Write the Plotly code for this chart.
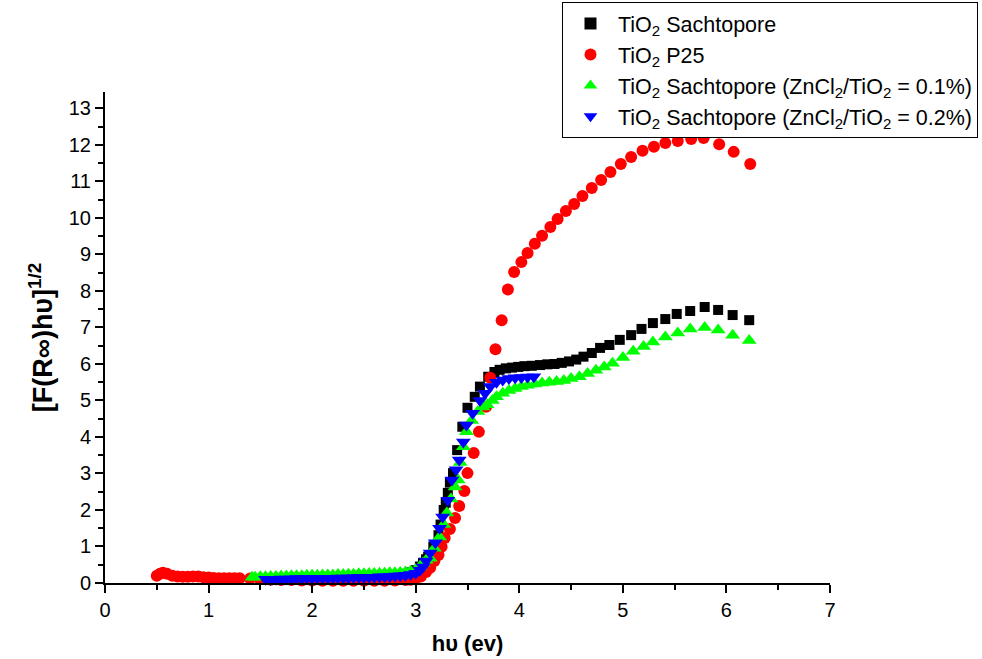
import plotly.graph_objects as go

# ---- data ----
black_x = [1.50, 1.60, 1.70, 1.80, 1.90, 2.00, 2.10, 2.20, 2.30, 2.40, 2.50, 2.60, 2.70, 2.80, 2.90, 2.95,
           3.00, 3.04, 3.07, 3.10, 3.12, 3.17, 3.22, 3.24, 3.27, 3.29, 3.31, 3.33, 3.36, 3.40, 3.45, 3.50,
           3.57, 3.62, 3.70, 3.76, 3.81, 3.87, 3.93, 3.99, 4.05, 4.12, 4.20, 4.27, 4.34, 4.41, 4.48, 4.55,
           4.62, 4.70, 4.78, 4.87, 4.97, 5.08, 5.18, 5.29, 5.41, 5.52, 5.65, 5.79, 5.92, 6.06, 6.22]
black_y = [0.10, 0.11, 0.12, 0.13, 0.14, 0.14, 0.15, 0.16, 0.17, 0.18, 0.19, 0.20, 0.21, 0.22, 0.25, 0.29,
           0.35, 0.45, 0.55, 0.65, 0.72, 1.00, 1.31, 1.60, 2.00, 2.20, 2.47, 2.75, 3.01, 3.64, 4.28, 4.80,
           5.10, 5.38, 5.65, 5.78, 5.84, 5.88, 5.90, 5.92, 5.94, 5.95, 5.97, 5.99, 6.00, 6.03, 6.07, 6.12,
           6.20, 6.30, 6.44, 6.52, 6.66, 6.79, 6.96, 7.12, 7.23, 7.37, 7.45, 7.56, 7.48, 7.34, 7.20]

red_x = [0.50, 0.53, 0.56, 0.60, 0.65, 0.70, 0.75, 0.80, 0.85, 0.90, 0.95, 1.00, 1.05, 1.10, 1.15, 1.20,
         1.25, 1.30, 1.40, 1.50, 1.60, 1.70, 1.80, 1.90, 2.00, 2.10, 2.20, 2.30, 2.40, 2.50, 2.60, 2.70,
         2.80, 2.90, 2.95, 3.00, 3.05, 3.10, 3.14, 3.18, 3.22, 3.25, 3.28, 3.33, 3.38, 3.42, 3.47, 3.50,
         3.56, 3.61, 3.68, 3.72, 3.77, 3.83, 3.89, 3.95, 4.02, 4.08, 4.15, 4.22, 4.30, 4.37, 4.45, 4.53,
         4.61, 4.70, 4.79, 4.88, 4.98, 5.08, 5.19, 5.30, 5.41, 5.53, 5.66, 5.78, 5.93, 6.07, 6.23]
red_y = [0.20, 0.25, 0.28, 0.25, 0.20, 0.18, 0.17, 0.17, 0.18, 0.18, 0.16, 0.15, 0.14, 0.13, 0.13, 0.13,
         0.13, 0.13, 0.12, 0.10, 0.09, 0.08, 0.08, 0.07, 0.07, 0.06, 0.06, 0.06, 0.06, 0.06, 0.06, 0.06,
         0.07, 0.08, 0.09, 0.12, 0.18, 0.30, 0.42, 0.60, 0.77, 0.99, 1.23, 1.48, 1.78, 2.11, 2.52, 3.01,
         3.56, 4.14, 4.83, 5.62, 6.40, 7.20, 8.04, 8.52, 8.79, 9.04, 9.29, 9.51, 9.75, 9.97, 10.19, 10.38,
         10.60, 10.82, 11.04, 11.26, 11.48, 11.67, 11.84, 11.95, 12.05, 12.11, 12.16, 12.19, 12.02, 11.81, 11.48]

green_x = [1.42, 1.45, 1.50, 1.55, 1.60, 1.65, 1.70, 1.75, 1.80, 1.85, 1.90, 1.95, 2.00, 2.05, 2.10, 2.15,
           2.20, 2.25, 2.30, 2.35, 2.40, 2.45, 2.50, 2.55, 2.60, 2.65, 2.70, 2.75, 2.80, 2.85, 2.90, 2.95,
           3.00, 3.04, 3.07, 3.10, 3.14, 3.18, 3.23, 3.27, 3.30, 3.34, 3.38, 3.41, 3.43, 3.46, 3.49,
           3.54, 3.60, 3.65, 3.69, 3.74, 3.78, 3.84, 3.90, 3.96, 4.02, 4.08, 4.15, 4.22, 4.29, 4.36, 4.43,
           4.50, 4.58, 4.66, 4.74, 4.82, 4.90, 5.00, 5.10, 5.20, 5.29, 5.41, 5.53, 5.65, 5.79, 5.92, 6.06, 6.22]
green_y = [0.16, 0.16, 0.17, 0.17, 0.18, 0.18, 0.19, 0.19, 0.20, 0.20, 0.20, 0.21, 0.21, 0.21, 0.22, 0.22,
           0.22, 0.23, 0.23, 0.24, 0.24, 0.25, 0.25, 0.26, 0.26, 0.27, 0.27, 0.28, 0.28, 0.29, 0.30, 0.32,
           0.36, 0.45, 0.55, 0.62, 0.68, 0.95, 1.26, 1.60, 1.92, 2.30, 2.63, 2.82, 3.30, 3.73, 4.14,
           4.45, 4.70, 4.82, 4.88, 5.00, 5.10, 5.20, 5.27, 5.33, 5.38, 5.42, 5.45, 5.48, 5.50, 5.52, 5.55,
           5.60, 5.65, 5.74, 5.83, 5.92, 6.02, 6.18, 6.35, 6.48, 6.60, 6.74, 6.85, 6.96, 7.00, 6.93, 6.79, 6.64]

blue_x = [1.55, 1.60, 1.65, 1.70, 1.75, 1.80, 1.85, 1.90, 1.95, 2.00, 2.05, 2.10, 2.15, 2.20, 2.25, 2.30,
          2.35, 2.40, 2.45, 2.50, 2.55, 2.60, 2.65, 2.70, 2.75, 2.80, 2.85, 2.90, 2.95,
          3.00, 3.04, 3.07, 3.10, 3.14, 3.19, 3.23, 3.26, 3.31, 3.35, 3.39, 3.42, 3.46, 3.49, 3.55, 3.62,
          3.67, 3.72, 3.78, 3.84, 3.90, 3.96, 4.02, 4.08, 4.14]
blue_y = [0.10, 0.10, 0.10, 0.11, 0.11, 0.11, 0.12, 0.12, 0.12, 0.12, 0.13, 0.13, 0.13, 0.13, 0.14, 0.14,
          0.14, 0.15, 0.15, 0.15, 0.16, 0.16, 0.17, 0.17, 0.18, 0.19, 0.20, 0.21, 0.23,
          0.27, 0.35, 0.44, 0.60, 0.82, 1.10, 1.50, 1.81, 2.27, 2.82, 3.10, 3.37, 3.86, 4.33, 4.65, 5.00,
          5.20, 5.38, 5.50, 5.56, 5.60, 5.62, 5.63, 5.64, 5.65]

names = ["TiO<sub>2</sub> Sachtopore",
         "TiO<sub>2</sub> P25",
         "TiO<sub>2</sub> Sachtopore (ZnCl<sub>2</sub>/TiO<sub>2</sub> = 0.1%)",
         "TiO<sub>2</sub> Sachtopore (ZnCl<sub>2</sub>/TiO<sub>2</sub> = 0.2%)"]

FONT = "Arial, Liberation Sans, sans-serif"

fig = go.Figure()
fig.add_trace(go.Scatter(x=black_x, y=black_y, mode="markers", name=names[0], cliponaxis=False,
                         marker=dict(symbol="square", size=10, color="black")))
fig.add_trace(go.Scatter(x=red_x, y=red_y, mode="markers", name=names[1], cliponaxis=False,
                         marker=dict(symbol="circle", size=12, color="#ff0000")))
fig.add_trace(go.Scatter(x=green_x, y=green_y, mode="markers", name=names[2], cliponaxis=False,
                         marker=dict(symbol="triangle-up", size=13, color="#00ff00")))
fig.add_trace(go.Scatter(x=blue_x, y=blue_y, mode="markers", name=names[3], cliponaxis=False,
                         marker=dict(symbol="triangle-down", size=13, color="#0000ff")))

axis_common = dict(showline=True, linecolor="black", linewidth=2, ticks="outside", ticklen=8,
                   tickwidth=2, tickcolor="black", showgrid=False, zeroline=False, mirror=False,
                   tickfont=dict(family=FONT, size=20, color="black"))

fig.update_xaxes(range=[0, 7], dtick=1, tick0=0,
                 minor=dict(dtick=0.5, ticks="outside", ticklen=5, tickwidth=2, tickcolor="black"),
                 title=dict(text="<b>hυ (ev)</b>", font=dict(family=FONT, size=22, color="black"), standoff=16),
                 **axis_common)
fig.update_yaxes(range=[0, 13.45], dtick=1, tick0=0,
                 minor=dict(dtick=0.5, ticks="outside", ticklen=5, tickwidth=2, tickcolor="black"),
                 title=dict(text="<b>[F(R∞)hυ]<sup>1/2</sup></b>", font=dict(family=FONT, size=27, color="black"), standoff=8),
                 **axis_common)

fig.update_layout(
    width=982, height=659,
    margin=dict(l=105, r=152, t=92, b=76, autoexpand=False),
    paper_bgcolor="white", plot_bgcolor="white",
    font=dict(family=FONT, color="black"),
    legend=dict(xref="container", yref="container", x=562/982, y=1 - 2/659,
                xanchor="left", yanchor="top", bordercolor="black", borderwidth=1,
                bgcolor="white", font=dict(family=FONT, size=21.5, color="black"),
                tracegroupgap=0, itemsizing="constant", itemwidth=45),
    showlegend=True,
)

fig.write_html("out.html")
